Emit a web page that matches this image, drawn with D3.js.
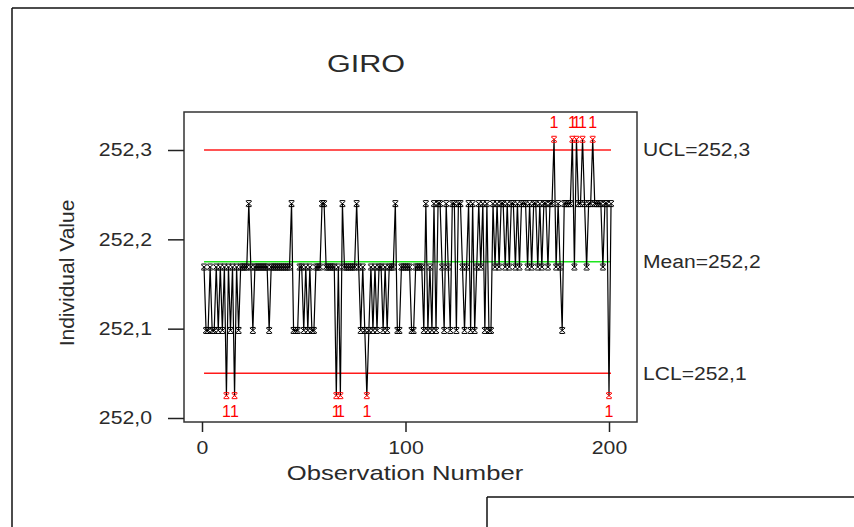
<!DOCTYPE html>
<html lang="en">
<head>
<meta charset="UTF-8">
<title>GIRO - I Chart</title>
<style>
  body { margin: 0; background: #fff; }
  svg { display: block; font-family: "Liberation Sans", Arial, sans-serif; }
  text { fill: #2a2a2a; }
  .axis path { display: none; }
  .axis line { stroke: #222; stroke-width: 1.5px; }
  .axis text { font-size: 18px; fill: #2a2a2a; }
  .frame { fill: none; stroke: #333; stroke-width: 1.5px; }
  .border { stroke: #111; stroke-width: 1.5px; }
  .series { fill: none; stroke: #000; stroke-width: 1.2px; }
  .mark { stroke: #000; stroke-width: 1px; }
  .mark.out { stroke: #f00; }
  .flag { fill: #f00; font-size: 16px; }
</style>
</head>
<body>
<svg width="854" height="527"></svg>

<script src="https://cdn.jsdelivr.net/npm/d3@7/dist/d3.min.js"></script>
<script>
var values = [
  252.169, 252.098, 252.098, 252.169, 252.098, 252.098, 252.169, 252.098, 252.169, 252.098,
  252.169, 252.025, 252.169, 252.098, 252.169, 252.025, 252.169, 252.098, 252.169, 252.169,
  252.169, 252.169, 252.240, 252.169, 252.098, 252.169, 252.169, 252.169, 252.169, 252.169,
  252.169, 252.169, 252.098, 252.169, 252.169, 252.169, 252.169, 252.169, 252.169, 252.169,
  252.169, 252.169, 252.169, 252.240, 252.098, 252.098, 252.098, 252.169, 252.169, 252.098,
  252.169, 252.098, 252.169, 252.098, 252.098, 252.169, 252.169, 252.169, 252.240, 252.240,
  252.169, 252.169, 252.169, 252.169, 252.169, 252.025, 252.169, 252.025, 252.240, 252.169,
  252.169, 252.169, 252.169, 252.169, 252.169, 252.240, 252.169, 252.098, 252.169, 252.098,
  252.025, 252.098, 252.169, 252.098, 252.169, 252.098, 252.169, 252.169, 252.098, 252.169,
  252.098, 252.169, 252.169, 252.169, 252.240, 252.098, 252.098, 252.169, 252.169, 252.169,
  252.169, 252.169, 252.098, 252.098, 252.169, 252.169, 252.169, 252.169, 252.098, 252.240,
  252.098, 252.169, 252.098, 252.240, 252.098, 252.240, 252.240, 252.169, 252.098, 252.240,
  252.169, 252.098, 252.240, 252.240, 252.098, 252.240, 252.240, 252.169, 252.098, 252.169,
  252.240, 252.098, 252.240, 252.098, 252.169, 252.240, 252.169, 252.240, 252.098, 252.240,
  252.098, 252.098, 252.240, 252.169, 252.240, 252.169, 252.240, 252.240, 252.169, 252.240,
  252.169, 252.240, 252.240, 252.169, 252.240, 252.169, 252.240, 252.240, 252.240, 252.169,
  252.240, 252.169, 252.240, 252.240, 252.169, 252.240, 252.169, 252.240, 252.240, 252.169,
  252.240, 252.240, 252.312, 252.169, 252.240, 252.169, 252.098, 252.240, 252.240, 252.240,
  252.240, 252.312, 252.169, 252.312, 252.240, 252.240, 252.312, 252.240, 252.169, 252.240,
  252.240, 252.312, 252.240, 252.240, 252.240, 252.240, 252.169, 252.240, 252.240, 252.025,
  252.240
];

var xTicks = [0, 100, 200];
var yTicks = [252.0, 252.1, 252.2, 252.3];

var limitValues = [252.300, 252.175, 252.050];
var limitLabels = ["UCL=252,3", "Mean=252,2", "LCL=252,1"];
var limitColors = ["#ff1a1a", "#1ee61e", "#ff1a1a"];

var title = "GIRO";
var xTitle = "Observation Number";
var yTitle = "Individual Value";

var svg = d3.select("svg");

// the screenshot is stretched sideways, so text is widened to match
function widen(sel, k) {
  sel.each(function() {
    var w = this.getComputedTextLength();
    d3.select(this).attr("textLength", w * k).attr("lengthAdjust", "spacingAndGlyphs");
  });
}

var x = d3.scaleLinear().domain([0, 200]).range([202, 609]);
var y = d3.scaleLinear().domain([252.0, 252.3]).range([418, 150]);

var commaFmt = function(d) { return d3.format(".1f")(d).replace(".", ","); };

// page borders
svg.append("line").attr("class", "border").attr("x1", 12).attr("y1", 8).attr("x2", 854).attr("y2", 8);
svg.append("line").attr("class", "border").attr("x1", 12).attr("y1", 8).attr("x2", 12).attr("y2", 527);
svg.append("line").attr("class", "border").attr("x1", 487).attr("y1", 497).attr("x2", 854).attr("y2", 497);
svg.append("line").attr("class", "border").attr("x1", 487).attr("y1", 497).attr("x2", 487).attr("y2", 527);

// plot frame
svg.append("rect").attr("class", "frame")
    .attr("x", 184).attr("y", 112).attr("width", 453).attr("height", 310);

var yAxis = svg.append("g").attr("class", "axis")
    .attr("transform", "translate(184,0)")
    .call(d3.axisLeft(y).tickValues(yTicks).tickSize(16).tickPadding(16).tickFormat(commaFmt));
widen(yAxis.selectAll("text"), 1.18);

var xAxis = svg.append("g").attr("class", "axis")
    .attr("transform", "translate(0,422)")
    .call(d3.axisBottom(x).tickValues(xTicks).tickSize(10).tickPadding(9).tickFormat(d3.format("d")));
widen(xAxis.selectAll("text"), 1.18);

// control limits and centre line
var n = values.length;
svg.append("g").selectAll("line")
    .data(limitValues)
    .enter().append("line")
    .attr("x1", x(1)).attr("x2", x(n))
    .attr("y1", function(d) { return y(d); })
    .attr("y2", function(d) { return y(d); })
    .attr("stroke", function(d, i) { return limitColors[i]; })
    .attr("stroke-width", 1.5);

var limText = svg.append("g").selectAll("text")
    .data(limitValues)
    .enter().append("text")
    .attr("x", 643)
    .attr("y", function(d) { return y(d); })
    .attr("dy", "0.36em")
    .style("font-size", "18px")
    .text(function(d, i) { return limitLabels[i]; });
widen(limText, 1.17);

// observations
var line = d3.line()
    .x(function(d, i) { return x(i + 1); })
    .y(function(d) { return y(d); });

svg.append("path").datum(values).attr("class", "series").attr("d", line);

function isOut(d) { return d > limitValues[0] || d < limitValues[2]; }

svg.append("g").selectAll("path")
    .data(values)
    .enter().append("path")
    .attr("class", function(d) { return isOut(d) ? "mark out" : "mark"; })
    .attr("transform", function(d, i) { return "translate(" + x(i + 1) + "," + y(d) + ")"; })
    .attr("d", "M-3,-2.5L3,2.5M-3,2.5L3,-2.5M-2.5,-3L2.5,-3M-2.5,3L2.5,3");

// test 1 flags
var flagged = values.map(function(d, i) { return { i: i + 1, v: d }; }).filter(function(p) { return isOut(p.v); });
svg.append("g").selectAll("text")
    .data(flagged)
    .enter().append("text")
    .attr("class", "flag")
    .attr("text-anchor", "middle")
    .attr("x", function(p) { return x(p.i); })
    .attr("y", function(p) { return p.v > limitValues[0] ? y(p.v) - 11 : y(p.v) + 21; })
    .text("1");

// titles
var t = svg.append("text")
    .attr("x", 366).attr("y", 72)
    .attr("text-anchor", "middle")
    .style("font-size", "23px")
    .text(title);
t.attr("textLength", 78).attr("lengthAdjust", "spacingAndGlyphs");

var xt = svg.append("text")
    .attr("x", 405).attr("y", 480)
    .attr("text-anchor", "middle")
    .style("font-size", "21px")
    .text(xTitle);
widen(xt, 1.22);

svg.append("text")
    .attr("transform", "translate(74,273) rotate(-90)")
    .attr("text-anchor", "middle")
    .style("font-size", "21px")
    .text(yTitle);
</script>
</body>
</html>
